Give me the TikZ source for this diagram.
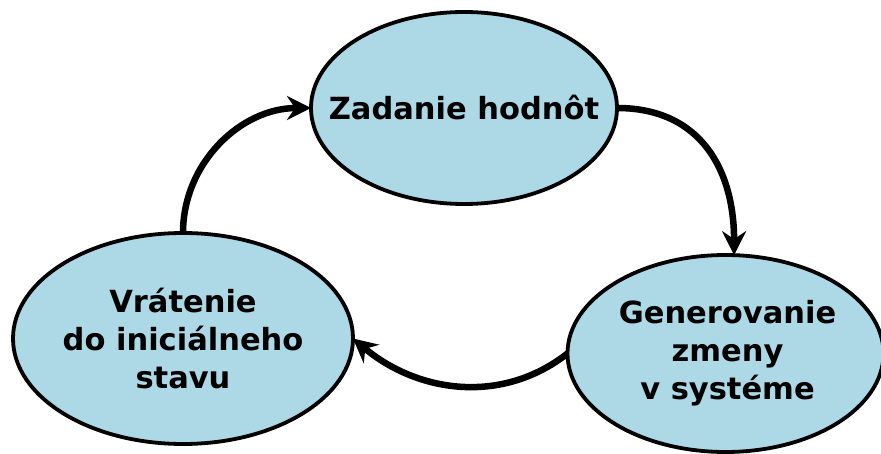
\documentclass[tikz,border=0pt]{standalone}
\usepackage{fontspec}
\setmainfont{DejaVu Sans}
\usetikzlibrary{arrows.meta,shapes.geometric}
\begin{document}
\begin{tikzpicture}[x=1pt,y=-1pt,
  state/.style={ellipse,draw=black,line width=3.8pt,fill=lightblueC,inner sep=0pt,outer sep=0pt},
  label text/.style={font=\fontsize{30.5}{38}\selectfont\bfseries,align=center,inner sep=0pt},
  flow/.style={line width=6.5pt,-{Stealth[length=24pt,width=24pt,inset=8pt]}}]
\definecolor{lightblueC}{HTML}{ADD8E6}
\path[use as bounding box] (0,0) rectangle (881,454);
\node[state,minimum width=306pt,minimum height=192pt] (top) at (464,108) {};
\node[state,minimum width=340pt,minimum height=211pt] (left) at (183,338.5) {};
\node[state,minimum width=316pt,minimum height=197pt] (right) at (725.5,353.5) {};
\node[label text] (toptext) at (top) {Zadanie hodnôt};
\node[label text] (lefttext) at (left) {Vrátenie\\do iniciálneho\\stavu};
\node[label text] (righttext) at ([xshift=2pt]right.center) {Generovanie\\zmeny\\v systéme};
\draw[flow] (left.north) to[out=90,in=180] (top.west);
\draw[flow] (top.east) to[out=0,in=90,looseness=1.15] (right.85);
\draw[flow] (right.west) to[out=218,in=-40] (left.east);
\end{tikzpicture}
\end{document}
